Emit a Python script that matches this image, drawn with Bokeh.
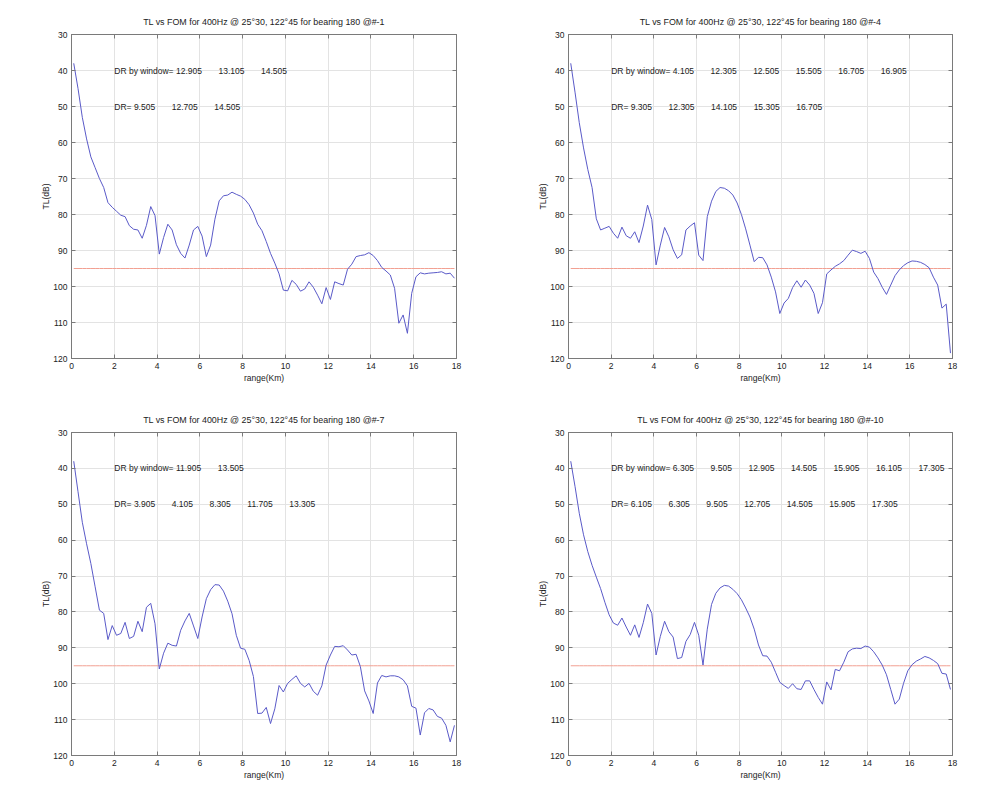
from bokeh.plotting import figure
from bokeh.models import Range1d, FixedTicker, LinearAxis, CustomLabelingPolicy
from bokeh.layouts import gridplot
from bokeh.core.properties import value
from bokeh.embed import file_html
from bokeh.resources import INLINE

# Range samples (km) shared by all four bearings
range_km = [round(0.105 + 0.2 * k, 3) for k in range(90)]

# Figure of merit (dB)
fom_db = 95.0

# Transmission loss (dB) per track
tl_1 = [38.0, 45.0, 53.0, 59.0, 64.0, 67.0, 70.0, 72.5, 76.7, 78.0,
        79.1, 80.2, 80.6, 83.1, 84.1, 84.3, 86.6, 83.0, 77.8, 80.3,
        91.0, 86.4, 82.7, 84.3, 88.4, 90.8, 92.1, 88.5, 84.3, 83.3,
        86.0, 91.7, 88.5, 81.3, 76.2, 74.8, 74.6, 73.8, 74.4, 74.9,
        75.8, 77.3, 79.6, 82.7, 84.5, 87.5, 90.8, 93.5, 96.5, 101.0,
        101.2, 98.3, 99.4, 101.3, 100.7, 98.7, 100.2, 102.4, 104.8, 100.3,
        103.6, 98.7, 99.2, 99.6, 95.2, 93.8, 91.7, 91.4, 91.2, 90.6,
        91.4, 92.8, 94.7, 95.7, 96.8, 100.5, 110.2, 107.9, 113.0, 101.9,
        97.3, 96.2, 96.5, 96.3, 96.2, 96.1, 95.9, 96.5, 96.3, 97.7]

tl_4 = [38.0, 46.0, 54.5, 61.5, 67.5, 72.5, 81.2, 84.3, 83.8, 83.3,
        85.2, 86.6, 83.5, 85.9, 86.6, 84.8, 87.8, 83.2, 77.4, 81.4,
        94.0, 88.5, 83.6, 86.2, 89.8, 92.2, 91.2, 84.3, 83.2, 82.3,
        91.3, 92.8, 80.6, 76.3, 73.6, 72.5, 72.7, 73.4, 74.6, 76.8,
        80.0, 84.0, 88.5, 93.1, 91.9, 92.0, 94.0, 97.4, 101.5, 107.5,
        104.6, 103.3, 100.3, 98.4, 100.2, 98.2, 99.6, 101.9, 107.5, 104.5,
        96.5, 95.4, 94.4, 93.7, 92.8, 91.3, 89.9, 90.3, 90.8, 90.2,
        92.2, 96.0, 97.8, 100.2, 102.2, 99.6, 97.0, 95.4, 94.2, 93.4,
        92.9, 93.0, 93.3, 93.9, 94.8, 97.4, 99.6, 106.0, 104.9, 118.5]

tl_7 = [38.0, 46.5, 55.0, 61.0, 66.5, 73.0, 79.5, 80.4, 87.7, 83.8,
        86.5, 86.0, 82.9, 87.4, 86.8, 82.6, 85.5, 78.7, 77.6, 83.3,
        95.9, 91.5, 88.7, 89.3, 89.5, 85.1, 82.5, 80.4, 83.9, 87.4,
        81.4, 76.3, 73.8, 72.4, 72.5, 74.2, 77.0, 80.5, 86.5, 90.1,
        90.4, 93.5, 98.0, 108.3, 108.2, 106.6, 111.1, 107.0, 100.5, 102.3,
        99.9, 98.8, 97.8, 99.9, 100.9, 99.9, 102.1, 103.2, 100.6, 94.8,
        92.0, 89.6, 89.7, 89.4, 90.6, 92.0, 91.8, 95.2, 102.0, 104.8,
        108.3, 99.8, 97.7, 98.1, 97.8, 97.8, 98.1, 98.9, 100.6, 106.3,
        106.8, 114.3, 108.1, 106.9, 107.3, 109.1, 109.6, 111.6, 116.2, 111.6]

tl_10 = [38.0, 45.0, 52.5, 58.5, 63.2, 67.0, 70.3, 73.5, 77.3, 80.8,
         83.1, 83.7, 81.7, 84.2, 86.5, 83.6, 87.1, 83.0, 77.8, 80.4,
         92.0, 86.8, 82.6, 85.5, 87.0, 93.0, 92.7, 88.2, 86.3, 82.9,
         86.5, 94.8, 84.8, 77.9, 74.8, 73.3, 72.6, 72.8, 73.7, 74.9,
         76.6, 78.9, 81.4, 84.8, 89.2, 92.2, 92.3, 94.0, 96.8, 99.6,
         100.5, 101.3, 100.0, 101.4, 101.6, 99.2, 99.2, 101.6, 103.8, 105.7,
         99.5, 101.7, 96.0, 96.4, 94.0, 91.1, 90.3, 90.1, 90.2, 89.5,
         89.8, 91.1, 92.8, 94.8, 97.5, 101.6, 105.7, 104.3, 99.9, 96.4,
         94.7, 93.7, 93.1, 92.4, 92.8, 93.5, 94.4, 97.1, 97.3, 101.6]

# Detection ranges (km)
dr_window_1 = [12.905, 13.105, 14.505]
dr_1 = [9.505, 12.705, 14.505]
dr_window_4 = [4.105, 12.305, 12.505, 15.505, 16.705, 16.905]
dr_4 = [9.305, 12.305, 14.105, 15.305, 16.705]
dr_window_7 = [11.905, 13.505]
dr_7 = [3.905, 4.105, 8.305, 11.705, 13.305]
dr_window_10 = [6.305, 9.505, 12.905, 14.505, 15.905, 16.105, 17.305]
dr_10 = [6.105, 6.305, 9.505, 12.705, 14.505, 15.905, 17.305]

x_ticks = [0, 2, 4, 6, 8, 10, 12, 14, 16, 18]
y_ticks = [30, 40, 50, 60, 70, 80, 90, 100, 110, 120]

FONT = "Liberation Sans"
FS = "8.5px"
AXIS_GRAY = "#7a7a7a"
SEP = "\u00a0" * 7


def fmt(vals):
    return SEP.join("%.3f" % v for v in vals)


def style_axis(ax):
    ax.axis_line_color = AXIS_GRAY
    ax.major_tick_line_color = AXIS_GRAY
    ax.major_tick_in = 4
    ax.major_tick_out = 0
    ax.minor_tick_line_color = None
    ax.major_label_text_font = FONT
    ax.major_label_text_font_size = FS
    ax.major_label_text_color = "#222222"
    ax.major_label_standoff = 4
    ax.axis_label_text_font = FONT
    ax.axis_label_text_font_size = FS
    ax.axis_label_text_font_style = "normal"
    ax.axis_label_text_color = "#222222"


def box_axis(ticks):
    # tick marks only, for the top and right edges of the box
    ax = LinearAxis(ticker=FixedTicker(ticks=ticks),
                    major_label_policy=CustomLabelingPolicy(code="return []"))
    style_axis(ax)
    ax.major_label_text_font_size = "1px"
    ax.major_label_standoff = 0
    return ax


def panel(tl, dr_window, dr, tag, left, right, top, bottom):
    p = figure(width=494, height=395, output_backend="svg", toolbar_location=None,
               x_range=Range1d(0, 18), y_range=Range1d(120, 30),
               min_border_left=left, min_border_right=right,
               min_border_top=top, min_border_bottom=bottom,
               background_fill_color="white", border_fill_color="white")
    p.title.text = "TL vs FOM for 400Hz @ 25\u00b030, 122\u00b045 for bearing 180 @#-%s" % tag
    p.title.align = "center"
    p.title.text_font = FONT
    p.title.text_font_size = "8.9px"
    p.title.text_font_style = "normal"
    p.title.text_color = "#222222"
    p.title.standoff = 8
    p.outline_line_color = AXIS_GRAY

    p.xaxis.ticker = FixedTicker(ticks=x_ticks)
    p.yaxis.ticker = FixedTicker(ticks=y_ticks)
    p.xaxis.axis_label = "range(Km)"
    p.yaxis.axis_label = "TL(dB)"
    style_axis(p.xaxis[0])
    style_axis(p.yaxis[0])
    p.xaxis.axis_label_standoff = 1
    p.yaxis.axis_label_standoff = -1

    p.add_layout(box_axis(x_ticks), "above")
    p.add_layout(box_axis(y_ticks), "right")

    p.xgrid.ticker = FixedTicker(ticks=x_ticks)
    p.ygrid.ticker = FixedTicker(ticks=y_ticks)
    p.xgrid.grid_line_color = "#e3e3e3"
    p.ygrid.grid_line_color = "#e3e3e3"

    # FOM threshold and transmission loss curve
    p.line(range_km, [fom_db] * len(range_km), line_color="#f2a092", line_width=1)
    p.line(range_km, tl, line_color="#5a5ac8", line_width=1)

    p.text(x=[2.0, 2.0], y=[40, 50],
           text=["DR by window= " + fmt(dr_window), "DR= " + fmt(dr)],
           text_font=value(FONT), text_font_size=value(FS),
           text_color="#222222", text_align="left", text_baseline="middle")
    return p


p1 = panel(tl_1, dr_window_1, dr_1, "1", 71, 38, 34, 37)
p2 = panel(tl_4, dr_window_4, dr_4, "4", 74, 36, 34, 37)
p3 = panel(tl_7, dr_window_7, dr_7, "7", 71, 38, 37, 35)
p4 = panel(tl_10, dr_window_10, dr_10, "10", 74, 36, 37, 35)

grid = gridplot([[p1, p2], [p3, p4]], toolbar_location=None)

open("out.html", "w").write(file_html(grid, INLINE))
